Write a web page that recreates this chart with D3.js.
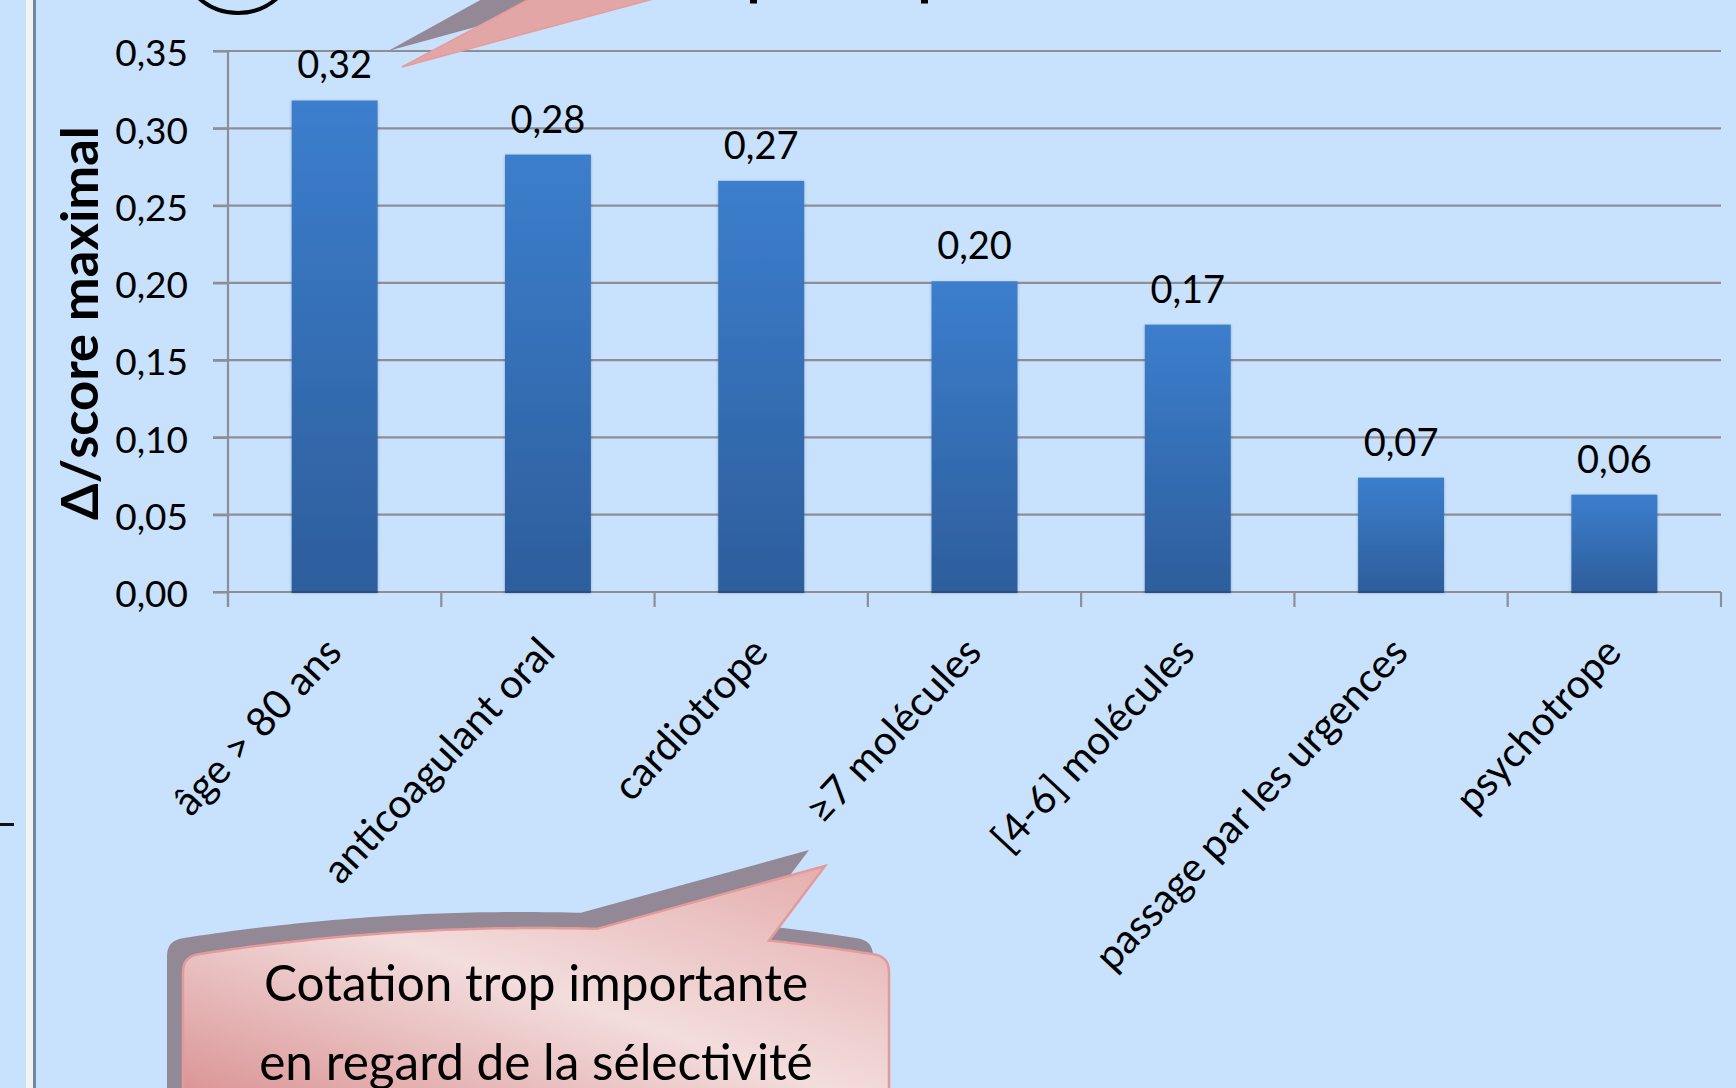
<!DOCTYPE html>
<html lang="fr">
<head>
<meta charset="utf-8">
<title>Δ/score maximal par critère</title>
<script src="https://cdn.jsdelivr.net/npm/d3@7/dist/d3.min.js"></script>
<style>
  html, body { margin: 0; padding: 0; background: #C8E1FC; overflow: hidden; }
  svg { display: block; font-family: Lato, "Open Sans", "Noto Sans", sans-serif; }
</style>
</head>
<body>
<svg id="chart" width="1736" height="1088"></svg>
<script>
// Criteria and the gain each one brings to the maximal score
const categories = [
  "âge > 80 ans",
  "anticoagulant oral",
  "cardiotrope",
  "≥7 molécules",
  "[4-6] molécules",
  "passage par les urgences",
  "psychotrope"
];
const values = [0.318, 0.283, 0.266, 0.201, 0.173, 0.074, 0.063];
const yTicks = [0, 0.05, 0.10, 0.15, 0.20, 0.25, 0.30, 0.35];
const yTitle = "Δ/score maximal";
const calloutLines = ["Cotation trop importante", "en regard de la sélectivité"];

const W = 1736, H = 1088;
const plot = { left: 228, right: 1721, top: 51, bottom: 592 };

const fr = d3.formatLocale({ decimal: ",", thousands: " ", grouping: [3], currency: ["", " €"] });
const fmt = fr.format(".2f");

const svg = d3.select("#chart");
const defs = svg.append("defs");

// bar gradient (light on top, darker at the base)
const barGrad = defs.append("linearGradient").attr("id", "barGrad")
  .attr("x1", 0).attr("y1", 0).attr("x2", 0).attr("y2", 1);
barGrad.append("stop").attr("offset", 0).attr("stop-color", "#3C7ECD");
barGrad.append("stop").attr("offset", 1).attr("stop-color", "#2D5E9C");

// pink bubble gradient
const bubbleGrad = defs.append("linearGradient").attr("id", "bubbleGrad")
  .attr("x1", 0).attr("y1", 1).attr("x2", 1).attr("y2", 0);
bubbleGrad.append("stop").attr("offset", 0).attr("stop-color", "#D98F90");
bubbleGrad.append("stop").attr("offset", 0.5).attr("stop-color", "#F3DDDD");
bubbleGrad.append("stop").attr("offset", 1).attr("stop-color", "#E4A9A9");

const shadow = defs.append("filter").attr("id", "barShadow")
  .attr("x", "-20%").attr("y", "-20%").attr("width", "140%").attr("height", "140%");
shadow.append("feDropShadow").attr("dx", 0).attr("dy", 1).attr("stdDeviation", 1.5)
  .attr("flood-color", "#000").attr("flood-opacity", 0.25);

// background
svg.append("rect").attr("width", W).attr("height", H).attr("fill", "#C8E1FC");

// frame strip on the left edge
svg.append("rect").attr("x", 26).attr("y", 0).attr("width", 7).attr("height", H).attr("fill", "#F2F3F4");
svg.append("rect").attr("x", 33).attr("y", 0).attr("width", 3).attr("height", H).attr("fill", "#6F87A1");
svg.append("rect").attr("x", 0).attr("y", 823).attr("width", 14).attr("height", 3).attr("fill", "#111");

// remnants of the heading above the chart
svg.append("circle").attr("cx", 238).attr("cy", -46).attr("r", 59)
  .attr("fill", "none").attr("stroke", "#000").attr("stroke-width", 4);
svg.append("rect").attr("x", 750).attr("y", 0).attr("width", 7).attr("height", 3.5).attr("fill", "#000");
svg.append("rect").attr("x", 921).attr("y", 0).attr("width", 7).attr("height", 3.5).attr("fill", "#000");

// scales
const x = d3.scaleBand(categories, [plot.left, plot.right])
  .paddingInner(0.597).paddingOuter(0.2985);
const y = d3.scaleLinear([0, 0.35], [plot.bottom, plot.top]);

// gridlines
svg.append("g").selectAll("line").data(yTicks).join("line")
  .attr("x1", plot.left - 15).attr("x2", plot.right)
  .attr("y1", d => y(d)).attr("y2", d => y(d))
  .attr("stroke", "#8C9096").attr("stroke-width", 2.2);

// y axis
const yAxis = svg.append("g").attr("transform", `translate(${plot.left},0)`)
  .call(d3.axisLeft(y).tickValues(yTicks).tickFormat(fmt).tickSize(15).tickPadding(25).tickSizeOuter(0));
yAxis.select(".domain").remove();
yAxis.selectAll(".tick line").attr("stroke", "#8C9096").attr("stroke-width", 2.2);
yAxis.selectAll(".tick text")
  .attr("font-family", "Lato, sans-serif").attr("font-size", 37).attr("fill", "#000")
  .attr("dy", "0.40em");
svg.append("line").attr("x1", plot.left).attr("x2", plot.left)
  .attr("y1", plot.top).attr("y2", plot.bottom + 15)
  .attr("stroke", "#8C9096").attr("stroke-width", 2.2);

// x axis boundary ticks
const bounds = d3.range(categories.length + 1).map(i => plot.left + i * x.step());
svg.append("g").selectAll("line").data(bounds).join("line")
  .attr("x1", d => d).attr("x2", d => d)
  .attr("y1", plot.bottom).attr("y2", plot.bottom + 15)
  .attr("stroke", "#8C9096").attr("stroke-width", 2.2);

// bars
svg.append("g").selectAll("rect").data(values).join("rect")
  .attr("x", (d, i) => x(categories[i]))
  .attr("width", x.bandwidth())
  .attr("y", d => y(d))
  .attr("height", d => y(0) - y(d))
  .attr("fill", "url(#barGrad)")
  .attr("filter", "url(#barShadow)");
svg.append("g").selectAll("line").data(values).join("line")
  .attr("x1", (d, i) => x(categories[i])).attr("x2", (d, i) => x(categories[i]) + x.bandwidth())
  .attr("y1", y(0)).attr("y2", y(0))
  .attr("stroke", "#2A4F7E").attr("stroke-width", 2);

// value labels
svg.append("g").selectAll("text").data(values).join("text")
  .attr("x", (d, i) => x(categories[i]) + x.bandwidth() / 2)
  .attr("y", d => y(d) - 22)
  .attr("text-anchor", "middle")
  .attr("font-size", 38).attr("fill", "#000")
  .text(d => fmt(d));

// rotated category labels
svg.append("g").selectAll("text").data(categories).join("text")
  .attr("transform", d => `translate(${x(d) + x.bandwidth() / 2 + 9},654) rotate(-47)`)
  .attr("text-anchor", "end")
  .attr("font-size", 40.5).attr("fill", "#000")
  .text(d => d);

// y axis title
svg.append("text")
  .attr("transform", "translate(98,323) rotate(-90)")
  .attr("text-anchor", "middle")
  .attr("font-size", 52.5).attr("font-weight", 700).attr("fill", "#000")
  .text(yTitle);

// speech bubble at the top, pointing to the first bar
svg.append("path")
  .attr("d", "M388,51 L484,-2 L581,-2 Z")
  .attr("fill", "#938896");
svg.append("path")
  .attr("d", "M402,67 L531,-2 L657,-2 Z")
  .attr("fill", "#E3A6A6").attr("stroke", "#E59C9C").attr("stroke-width", 1.5);

// speech bubble at the bottom
function bubblePath(dx, dy) {
  const L = 183 + dx, R = 889 + dx, yc = 972 + dy, yb = 1110 + dy;
  const a = 200 + dx, b = 872 + dx, base = 954 + dy, bulge = 104;
  const topY = xx => { const t = (xx - a) / (b - a); return base - bulge * t * (1 - t); };
  const p = d3.path();
  p.moveTo(L, yb);
  p.lineTo(L, yc);
  p.quadraticCurveTo(L, base + 2, a, topY(a));
  const leftBase = 597 + dx, rightBase = 769 + dx;
  for (let xx = a; xx <= leftBase; xx += 8) p.lineTo(xx, topY(xx));
  p.lineTo(leftBase, topY(leftBase));
  p.lineTo(825 + dx, 866 + dy);
  p.lineTo(rightBase, topY(rightBase));
  for (let xx = rightBase; xx <= b; xx += 8) p.lineTo(xx, topY(xx));
  p.lineTo(b, topY(b));
  p.quadraticCurveTo(R, base + 2, R, yc);
  p.lineTo(R, yb);
  p.closePath();
  return p.toString();
}
svg.append("path").attr("d", bubblePath(-16, -16)).attr("fill", "#938896");
svg.append("path").attr("d", bubblePath(0, 0))
  .attr("fill", "url(#bubbleGrad)").attr("stroke", "#E39A9B").attr("stroke-width", 2.5);

svg.append("g").selectAll("text").data(calloutLines).join("text")
  .attr("x", 536).attr("y", (d, i) => 1001 + i * 79)
  .attr("text-anchor", "middle")
  .attr("font-size", 49.5).attr("fill", "#000")
  .text(d => d);
</script>
</body>
</html>
